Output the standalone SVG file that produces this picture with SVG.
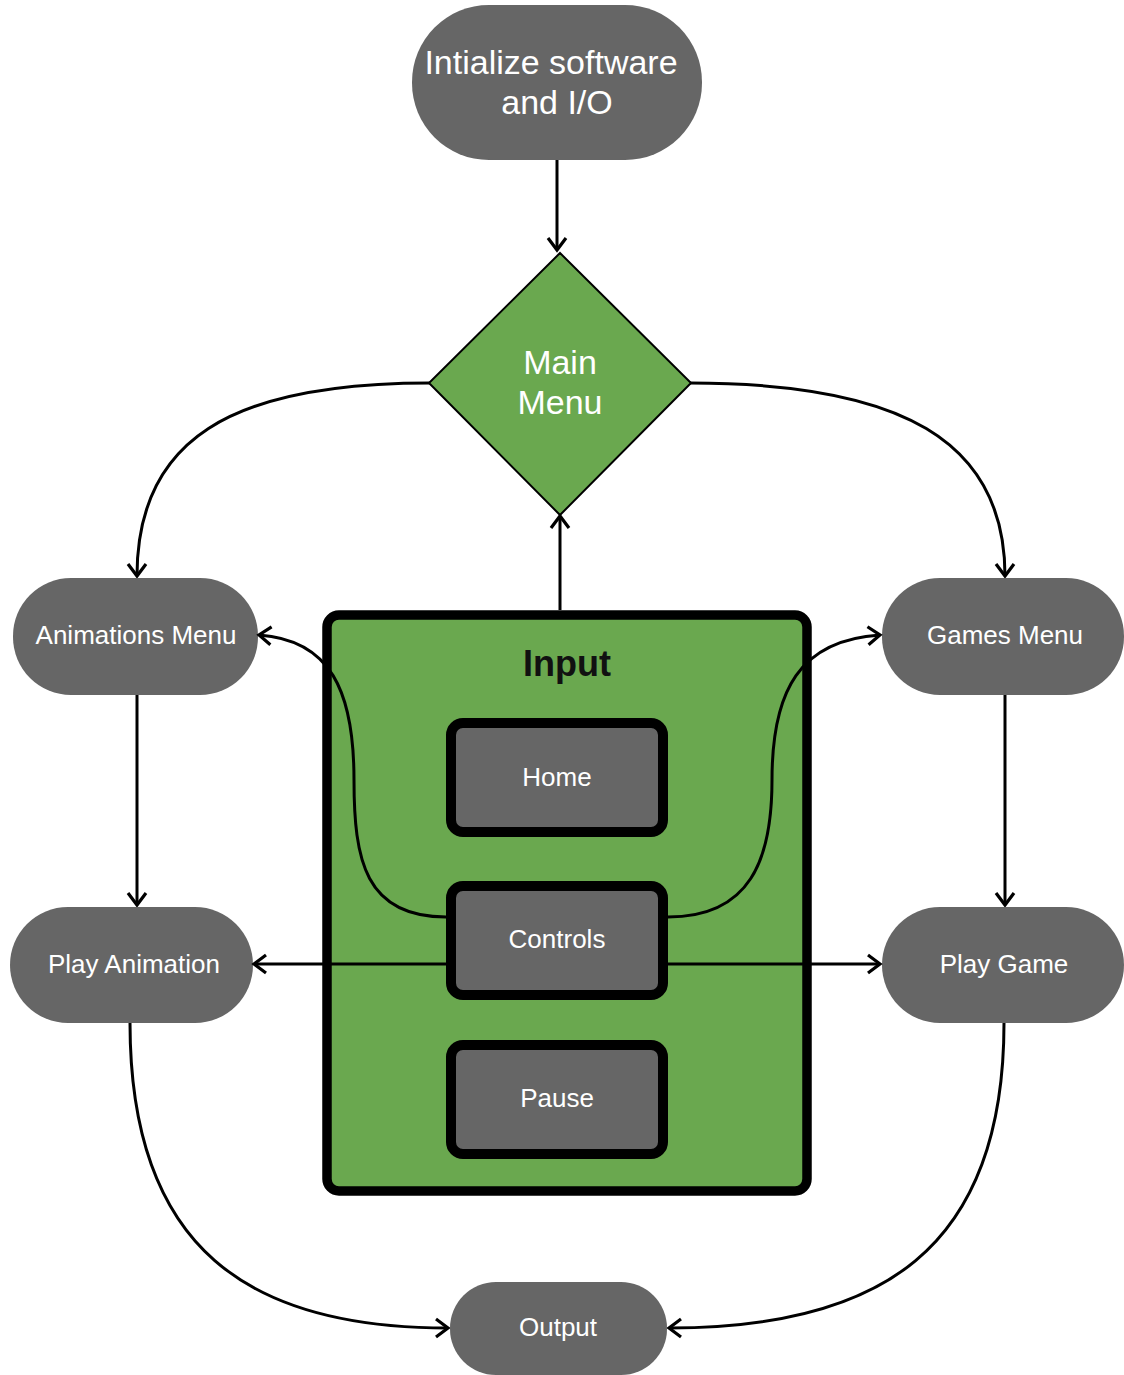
<svg xmlns="http://www.w3.org/2000/svg" width="1124" height="1375" viewBox="0 0 1124 1375">
  <style>
    .pill { fill: #666666; }
    .key { fill: #666666; stroke: #000000; stroke-width: 10; }
    .lbl { font-family: "Liberation Sans", Arial, sans-serif; fill: #ffffff; text-anchor: middle; dominant-baseline: central; }
    .big { font-size: 34px; }
    .small { font-size: 26px; }
    .conn { fill: none; stroke: #000000; stroke-width: 3; }
    .arrow { marker-end: url(#open); }
  </style>
  <defs>
    <marker id="open" markerUnits="userSpaceOnUse" markerWidth="22" markerHeight="24" viewBox="0 0 22 24" refX="19" refY="12" orient="auto">
      <path d="M7,3 L19,12 L7,21" fill="none" stroke="#000000" stroke-width="3.2" stroke-linejoin="miter"/>
    </marker>
  </defs>

  <rect width="1124" height="1375" fill="#ffffff"/>

  <!-- connectors drawn first so nodes sit on top -->
  <g id="connectors">
    <path class="conn arrow" d="M557,160 L557,250"/>
    <path class="conn arrow" d="M430,383 C230,383 137,440 137,576"/>
    <path class="conn arrow" d="M690,383 C900,383 1005,440 1005,576"/>
    <path class="conn arrow" d="M137,695 L137,905"/>
    <path class="conn arrow" d="M1005,695 L1005,905"/>
    <path class="conn arrow" d="M130,1023 C130,1250 250,1328 448,1328"/>
    <path class="conn arrow" d="M1004,1023 C1004,1250 880,1328 669,1328"/>
  </g>

  <g id="n-init">
    <rect class="pill" x="412" y="5" width="290" height="155" rx="77" ry="77"/>
    <text class="lbl big" x="551" y="62">Intialize software</text>
    <text class="lbl big" x="557" y="102">and I/O</text>
  </g>

  <g id="n-main">
    <polygon points="560,253 691,383 560,515 429,383" fill="#6aa84f" stroke="#000000" stroke-width="2"/>
    <text class="lbl big" x="560" y="362">Main</text>
    <text class="lbl big" x="560" y="402">Menu</text>
  </g>

  <g id="n-anim-menu">
    <rect class="pill" x="13" y="578" width="245" height="117" rx="58" ry="58"/>
    <text class="lbl small" x="136" y="635">Animations Menu</text>
  </g>

  <g id="n-games-menu">
    <rect class="pill" x="882" y="578" width="242" height="117" rx="58" ry="58"/>
    <text class="lbl small" x="1005" y="635">Games Menu</text>
  </g>

  <g id="n-play-anim">
    <rect class="pill" x="10" y="907" width="243" height="116" rx="58" ry="58"/>
    <text class="lbl small" x="134" y="964">Play Animation</text>
  </g>

  <g id="n-play-game">
    <rect class="pill" x="882" y="907" width="242" height="116" rx="58" ry="58"/>
    <text class="lbl small" x="1004" y="964">Play Game</text>
  </g>

  <g id="n-output">
    <rect class="pill" x="450" y="1282" width="217" height="93" rx="46" ry="46"/>
    <text class="lbl small" x="558" y="1327">Output</text>
  </g>

  <g id="n-input">
    <rect x="327" y="615" width="480" height="576" rx="12" ry="12" fill="#6aa84f" stroke="#000000" stroke-width="9.5"/>
    <text x="567" y="663" font-family="Liberation Sans, Arial, sans-serif" font-size="36" font-weight="bold" fill="#111111" text-anchor="middle" dominant-baseline="central">Input</text>
  </g>

  <!-- connectors leaving the Input panel -->
  <g id="connectors-input">
    <path class="conn arrow" d="M560,610 L560,516"/>
    <path class="conn arrow" d="M446,917 C365,917 354,860 354,780 C354,690 330,640 259,635"/>
    <path class="conn arrow" d="M668,917 C750,917 772,860 772,780 C772,690 800,640 880,635"/>
    <path class="conn arrow" d="M446,964 L254,964"/>
    <path class="conn arrow" d="M668,964 L880,964"/>
  </g>

  <g id="n-home">
    <rect class="key" x="451" y="723" width="212" height="109" rx="12" ry="12"/>
    <text class="lbl small" x="557" y="777">Home</text>
  </g>

  <g id="n-controls">
    <rect class="key" x="451" y="886" width="212" height="109" rx="12" ry="12"/>
    <text class="lbl small" x="557" y="939">Controls</text>
  </g>

  <g id="n-pause">
    <rect class="key" x="451" y="1045" width="212" height="109" rx="12" ry="12"/>
    <text class="lbl small" x="557" y="1098">Pause</text>
  </g>
</svg>
